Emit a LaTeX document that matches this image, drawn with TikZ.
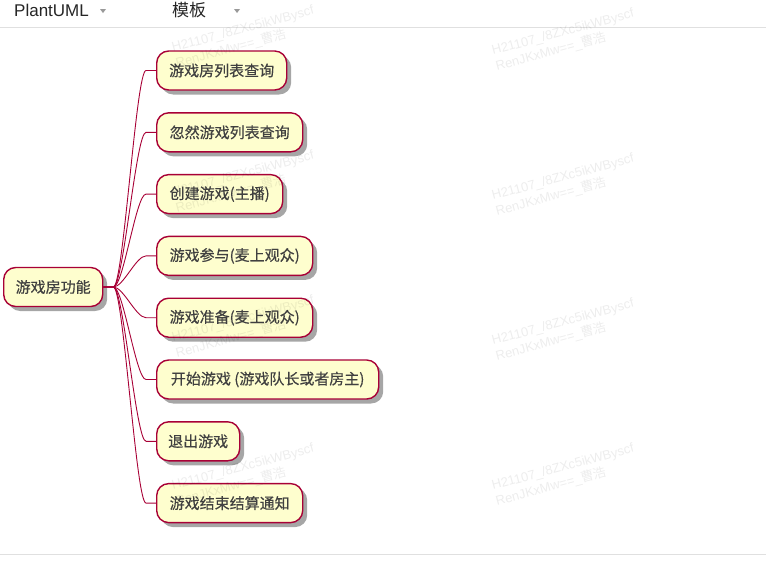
\documentclass[tikz,border=0pt]{standalone}
\usepackage{fontspec}
\setmainfont{Liberation Sans}
\newfontfamily\cjk{Noto Sans CJK SC}
\newfontfamily\cjkbox[FakeBold=0.4]{Noto Sans CJK SC}
\usetikzlibrary{shadows,calc}
\definecolor{pumlred}{HTML}{A80036}
\definecolor{pumlfill}{HTML}{FEFECE}
\tikzset{
  mmbox/.style={draw=pumlred, line width=1.4pt, fill=pumlfill, rounded corners=12pt,
    minimum height=39pt, inner sep=0pt, font=\cjkbox\fontsize{15}{15}\selectfont, text=black!75,
    drop shadow={shadow xshift=4.5pt, shadow yshift=-4.5pt, fill=black, opacity=0.35}, anchor=west},
  mmedge/.style={draw=pumlred, line width=0.9pt},
  wmark/.style={font=\fontsize{13}{13}\selectfont, text=black, text opacity=0.07, rotate=15,
    anchor=base west, inner sep=0pt},
  topbar/.style={font=\fontsize{17}{17}\selectfont, text=black!85, anchor=base west, inner sep=0pt},
  sepline/.style={draw=black!12, line width=0.8pt},
  dropmark/.style={fill=black!40, draw=none}
}
\begin{document}
\begin{tikzpicture}[x=1pt,y=-1pt]
\useasboundingbox[fill=white] (0,0) rectangle (766,560);
% top bar
\node[topbar] (tplant) at (14,16.5) {PlantUML};
\node[topbar] (tmoban) at (172,16.5) {\cjk 模板};
\fill[dropmark] (100,9) -- (106,9) -- (103,13) -- cycle;
\fill[dropmark] (234,9) -- (240,9) -- (237,13) -- cycle;
\draw[sepline] (0,27) -- (766,27);
\draw[sepline] (0,554) -- (766,554);
% mind map
\node[mmbox, minimum width=99pt] (root) at (3,287) {游戏房功能};
\node[mmbox, minimum width=130pt] (c1) at (156,70.5) {游戏房列表查询};
\node[mmbox, minimum width=146pt] (c2) at (156,132.3) {忽然游戏列表查询};
\node[mmbox, minimum width=126pt] (c3) at (156,194.1) {创建游戏(主播)};
\node[mmbox, minimum width=156pt] (c4) at (156,255.9) {游戏参与(麦上观众)};
\node[mmbox, minimum width=156pt] (c5) at (156,317.7) {游戏准备(麦上观众)};
\node[mmbox, minimum width=222pt] (c6) at (156,379.5) {开始游戏 (游戏队长或者房主)};
\node[mmbox, minimum width=83pt] (c7) at (156,441.3) {退出游戏};
\node[mmbox, minimum width=146pt] (c8) at (156,503.1) {游戏结束结算通知};
\foreach \n in {c1,c2,c3,c4,c5,c6,c7,c8}{
  \draw[mmedge] (root.east) -- ++(10,0) .. controls +(10,0) and ($(\n.west)+(-20,0)$) .. ($(\n.west)+(-10,0)$) -- (\n.west);
}
% watermarks
\foreach \wx/\wy/\k in {173/52/a,493/55/b,173/197/c,493/200/d,173/342/e,493/345/f,173/490/g,493/490/h}{
  \node[wmark] (wm1\k) at (\wx,\wy) {H21107\_/8ZXc5ikWByscf};
  \node[wmark] (wm2\k) at ($(\wx,\wy)+(4,15.5)$) {RenJKxMw==\_{\cjk 曹浩}};
}
\end{tikzpicture}
\end{document}
